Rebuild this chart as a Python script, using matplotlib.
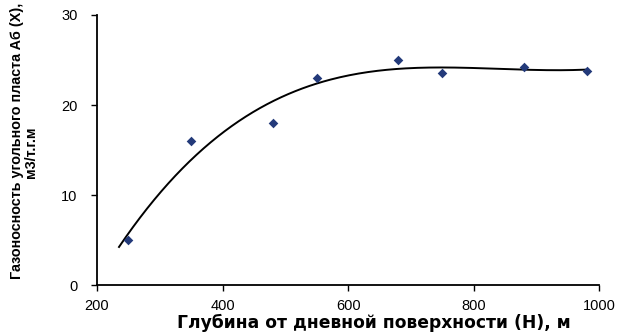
import numpy as np
import matplotlib
matplotlib.use("Agg")
from matplotlib import pyplot as plt

# depth, m
depth = [250, 350, 480, 550, 680, 750, 880, 980]
# gas content, m3/t
gas = [5.0, 16.0, 18.0, 23.0, 25.0, 23.5, 24.2, 23.8]

xticks = [200, 400, 600, 800, 1000]
yticks = [0, 10, 20, 30]

plt.rcParams['font.family'] = ['Liberation Sans', 'DejaVu Sans']

fig = plt.figure(figsize=(6.2, 3.33), dpi=100)
ax = fig.add_axes([0.1565, 0.144, 0.81, 0.811])

# polynomial trendline like excel (3rd order)
coef = np.polyfit(depth, gas, 3)
xs = np.linspace(235, 980, 200)
ax.plot(xs, np.polyval(coef, xs), color='black', lw=1.4)

ax.scatter(depth, gas, marker='D', s=24, color='#233a7a', zorder=3, linewidths=0)

ax.set_xlim(200, 1000)
ax.set_ylim(0, 30)
ax.set_xticks(xticks)
ax.set_yticks(yticks)
ax.spines['top'].set_visible(False)
ax.spines['right'].set_visible(False)
ax.spines['left'].set_linewidth(1.3)
ax.spines['bottom'].set_linewidth(1.3)
ax.tick_params(direction='out', length=4, width=1, labelsize=10.5)
ax.tick_params(axis='x', pad=6)
ax.tick_params(axis='y', pad=10)

# excel stretched this one wide, dejavu bold is the widest we have
fig.text(0.603, 0.015, 'Глубина от дневной поверхности (Н), м', ha='center',
         va='baseline', fontsize=12.3, fontweight='bold', family='DejaVu Sans')
fig.text(0.027, 0.577, 'Газоносность угольного пласта Aб (X),',
         rotation=90, ha='center', va='center', fontsize=10.4,
         fontweight='bold')
fig.text(0.05, 0.542, 'м3/т.г.м', rotation=90, ha='center', va='center',
         fontsize=10.4, fontweight='bold')

fig.savefig('out.png', dpi=100)
